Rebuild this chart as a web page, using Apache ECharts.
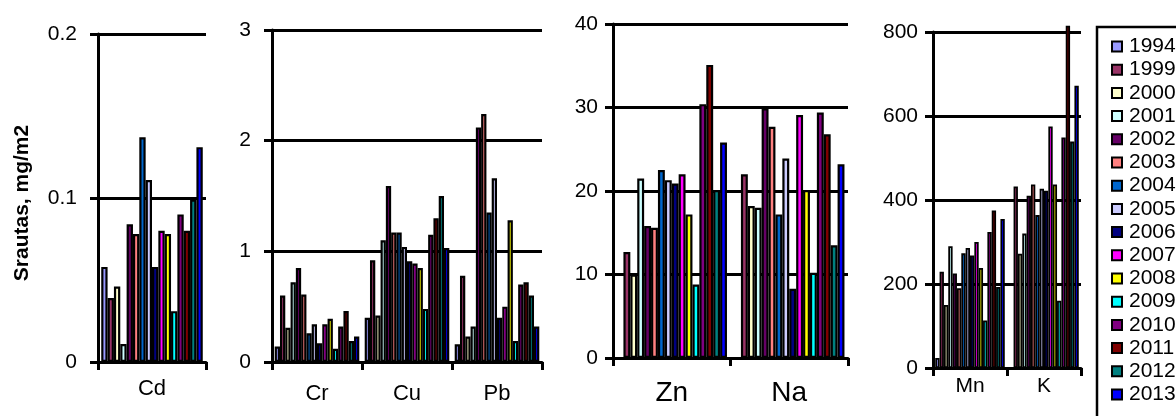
<!DOCTYPE html>
<html>
<head>
<meta charset="utf-8">
<script src="https://cdn.jsdelivr.net/npm/echarts@6/dist/echarts.min.js"></script>
<style>
html,body{margin:0;padding:0;background:#fff;}
#chart{width:1176px;height:416px;}
</style>
</head>
<body>
<div id="chart"></div>
<script>
// ---- data ----
const years = ['1994','1999','2000','2001','2002','2003','2004','2005','2006','2007','2008','2009','2010','2011','2012','2013'];
const palette = ['#9999FF','#993366','#FFFFCC','#CCFFFF','#660066','#FF8080','#0066CC','#CCCCFF','#000080','#FF00FF','#FFFF00','#00FFFF','#800080','#800000','#008080','#0000FF'];

const cd = [0.058,0.039,0.046,0.011,0.084,0.078,0.137,0.111,0.058,0.080,0.078,0.031,0.090,0.080,0.099,0.131];
const cr = [0.14,0.60,0.31,0.72,0.85,0.61,0.26,0.34,0.17,0.34,0.39,0.12,0.32,0.46,0.19,0.23];
const cu = [0.40,0.92,0.42,1.10,1.59,1.17,1.17,1.04,0.91,0.89,0.85,0.48,1.15,1.30,1.50,1.03];
const pb = [0.16,0.78,0.23,0.32,2.12,2.24,1.35,1.66,0.40,0.50,1.28,0.19,0.70,0.72,0.60,0.32];
const zn = [null,12.7,10.0,21.5,15.8,15.6,22.5,21.3,20.9,22.0,17.2,8.8,30.4,35.1,20.1,25.8];
const na = [null,22.0,18.2,18.0,29.9,27.7,17.2,23.9,8.3,29.1,20.1,10.2,29.4,26.8,13.5,23.2];
const mn = [24,229,150,290,225,190,273,286,268,300,238,113,324,375,193,355];
const k  = [null,432,272,320,410,437,364,427,422,575,437,160,549,815,539,672];

const cats1 = ['Cd'];
const cats2 = ['Cr','Cu','Pb'];
const cats3 = ['Zn','Na'];
const cats4 = ['Mn','K'];

const yTicks1 = {min:0, max:0.2, interval:0.1};
const yTicks2 = {min:0, max:3, interval:1};
const yTicks3 = {min:0, max:40, interval:10};
const yTicks4 = {min:0, max:800, interval:200};

// ---- layout / style ----
const FONT = 'Arial, "Liberation Sans", sans-serif';
const panels = [
  {cats:cats1, vals:[cd], ticks:yTicks1, grid:{left:98, top:34, width:108, height:328}, catFont:22, catMargin:16, yMargin:21, bw:2.2},
  {cats:cats2, vals:[cr,cu,pb], ticks:yTicks2, grid:{left:272, top:30, width:270, height:332}, catFont:22, catMargin:21, yMargin:21, bw:2.2},
  {cats:cats3, vals:[zn,na], ticks:yTicks3, grid:{left:613, top:24, width:235, height:334}, catFont:28, catMargin:21, yMargin:15, bw:2.2},
  {cats:cats4, vals:[mn,k], ticks:yTicks4, grid:{left:933, top:32, width:148, height:336}, catFont:21, catMargin:8, yMargin:15, bw:1.8}
];

const black = '#000';
const grids = [], xAxes = [], yAxes = [], series = [];
panels.forEach((p, gi) => {
  grids.push(Object.assign({containLabel:false}, p.grid));
  xAxes.push({
    type:'category', gridIndex:gi, data:p.cats,
    axisLine:{show:true, lineStyle:{color:black, width:3}},
    axisTick:{show:true, length:8, lineStyle:{color:black, width:3}},
    axisLabel:{color:black, fontSize:p.catFont, fontFamily:FONT, margin:p.catMargin, interval:0},
    splitLine:{show:false}
  });
  yAxes.push({
    type:'value', gridIndex:gi, min:p.ticks.min, max:p.ticks.max, interval:p.ticks.interval,
    axisLine:{show:true, lineStyle:{color:black, width:3}},
    axisTick:{show:true, length:8, lineStyle:{color:black, width:3}},
    axisLabel:{color:black, fontSize:21, fontFamily:FONT, margin:p.yMargin},
    splitLine:{show:true, lineStyle:{color:black, width:3}}
  });
  years.forEach((y, si) => {
    series.push({
      type:'bar', name:y, xAxisIndex:gi, yAxisIndex:gi,
      data:p.cats.map((c, ci) => p.vals[ci][si]),
      barGap:'0%', barCategoryGap:'6%', clip:false,
      itemStyle:{color:palette[si], borderColor:black, borderWidth:p.bw},
      emphasis:{disabled:true}, animation:false
    });
  });
});

const chart = echarts.init(document.getElementById('chart'), null, {renderer:'canvas'});
chart.setOption({
  animation:false,
  backgroundColor:'#fff',
  color:palette,
  grid:grids, xAxis:xAxes, yAxis:yAxes, series:series,
  legend:{
    orient:'vertical', left:1106, top:31, bottom:0, itemWidth:10, itemHeight:10, itemGap:2.2,
    icon:'rect', selectedMode:false, data:years,
    itemStyle:{borderColor:black, borderWidth:2},
    textStyle:{color:black, fontSize:21, fontFamily:FONT, padding:[0,0,0,2]}
  },
  graphic:[
    {type:'rect', shape:{x:1097, y:27, width:120, height:420}, style:{fill:'none', stroke:black, lineWidth:2.5}, z:-1},
    {type:'text', x:22, y:203, rotation:Math.PI/2,
     style:{text:'Srautas, mg/m2', font:'bold 21px ' + FONT, fill:black, textAlign:'center', textVerticalAlign:'middle'}}
  ]
});
</script>
</body>
</html>
